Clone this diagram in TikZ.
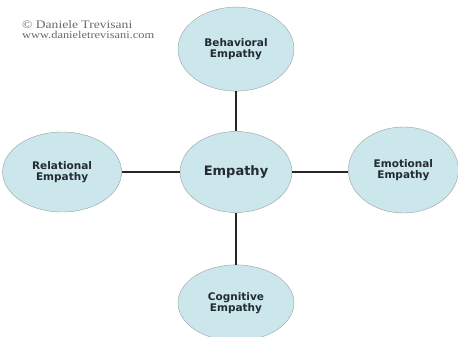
\documentclass[tikz,border=0pt]{standalone}
\usepackage{fontspec}
\setmainfont{DejaVu Sans}
\newfontfamily\notefont{Liberation Serif}
\usetikzlibrary{shapes.geometric,positioning}

\definecolor{bubblefill}{RGB}{204,231,236}
\definecolor{bubbleline}{RGB}{150,160,162}
\definecolor{labeltext}{RGB}{35,42,50}
\definecolor{notetext}{RGB}{105,105,105}

\newcommand{\widenote}[1]{\scalebox{1.18}[1]{#1}}

\begin{document}
\begin{tikzpicture}[
    x=1pt, y=1pt,
    bubble/.style={draw=bubbleline, fill=bubblefill, ellipse, inner sep=0pt, align=center,
                   minimum width=116pt, minimum height=84pt, font=\bfseries\fontsize{10.5}{10.5}\selectfont,
                   text=labeltext},
    link/.style={line width=2pt, black!85},
    note/.style={anchor=base west, inner sep=0pt, text=notetext}
]
\useasboundingbox (-236,-165) rectangle (222,172);

% Center
\node[bubble, minimum width=112pt, minimum height=81pt, font=\bfseries\fontsize{13}{14}\selectfont] (empathy) {Empathy};

% Four kinds around it
\node[bubble, above=40pt of empathy] (behavioral) {Behavioral\\Empathy};
\node[bubble, left=58pt of empathy, minimum width=119pt, minimum height=80pt] (relational) {Relational\\Empathy};
\node[bubble, right=56pt of empathy, minimum width=110pt, minimum height=86pt, yshift=2pt] (emotional) {Emotional\\Empathy};
\node[bubble, below=52pt of empathy, minimum height=76pt] (cognitive) {Cognitive\\Empathy};

% Links
\draw[link] (empathy) -- (behavioral);
\draw[link] (empathy.west) -- (relational.east);
\draw[link] (empathy.east) -- (emotional.west |- empathy.east);
\draw[link] (empathy) -- (cognitive);

% Copyright note
\node[note, font=\notefont\fontsize{11.5}{12}\selectfont] (owner) at (-214,143) {\widenote{\textcopyright\ Daniele Trevisani}};
\node[note, font=\notefont\fontsize{10.5}{11}\selectfont] (site) at (-214,133) {\widenote{www.danieletrevisani.com}};

\end{tikzpicture}
\end{document}
